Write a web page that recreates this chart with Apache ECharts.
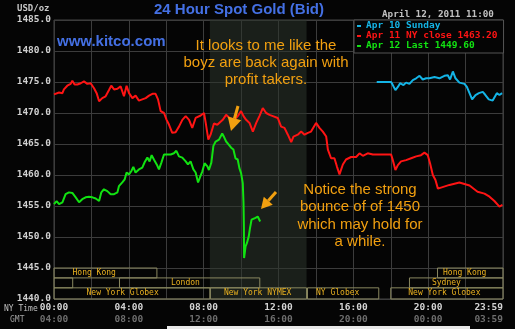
<!DOCTYPE html>
<html><head><meta charset="utf-8">
<script src="https://cdn.jsdelivr.net/npm/echarts@6/dist/echarts.min.js"></script>
<style>html,body{margin:0;padding:0;background:#050505;}#c{width:515px;height:329px;}</style>
</head><body><div id="c"></div>
<script>
// ---- data (hours NY time, USD/oz) ----
const nyTimeLabels = ['00:00','04:00','08:00','12:00','16:00','20:00','23:59'];
const gmtLabels = ['04:00','08:00','12:00','16:00','20:00','00:00','03:59'];
const seriesNames = ['Apr 10 Sunday','Apr 11 NY close 1463.20','Apr 12 Last 1449.60'];

const apr10 = [[17.25,1475.0],[18.02,1475.0],[18.11,1474.5],[18.25,1473.7],[18.38,1474.2],[18.50,1474.8],[18.68,1474.5],[18.82,1474.9],[19.00,1474.7],[19.18,1475.3],[19.36,1475.6],[19.54,1476.0],[19.71,1475.4],[19.89,1475.6],[20.07,1475.6],[20.34,1475.8],[20.60,1475.6],[20.87,1476.0],[21.05,1476.1],[21.17,1475.4],[21.32,1476.7],[21.46,1475.6],[21.67,1474.9],[21.94,1474.7],[22.07,1474.2],[22.21,1473.2],[22.35,1472.2],[22.53,1472.9],[22.71,1473.2],[22.92,1473.4],[23.06,1472.9],[23.24,1472.2],[23.45,1472.0],[23.54,1471.7],[23.67,1473.2],[23.81,1472.9],[23.95,1473.2]];

const apr11 = [[0,1473.0],[0.27,1473.3],[0.45,1473.2],[0.53,1473.8],[0.71,1474.4],[0.89,1474.7],[0.98,1475.2],[1.10,1474.6],[1.25,1474.6],[1.43,1474.8],[1.60,1475.1],[1.78,1474.7],[1.96,1474.8],[2.14,1474.0],[2.28,1473.2],[2.41,1471.9],[2.58,1472.4],[2.76,1472.7],[2.94,1473.7],[3.06,1474.4],[3.21,1473.8],[3.39,1473.9],[3.56,1474.3],[3.65,1474.4],[3.74,1472.7],[3.88,1474.4],[4.01,1473.2],[4.19,1472.4],[4.36,1472.8],[4.54,1472.0],[4.72,1472.2],[4.90,1472.4],[5.08,1472.8],[5.26,1473.1],[5.43,1473.1],[5.56,1472.2],[5.70,1470.3],[5.88,1470.0],[6.02,1468.9],[6.15,1468.1],[6.32,1466.8],[6.50,1466.9],[6.68,1467.8],[6.86,1468.9],[7.04,1469.5],[7.22,1468.9],[7.39,1467.6],[7.57,1469.2],[7.84,1469.6],[8.02,1470.0],[8.11,1468.4],[8.25,1465.7],[8.37,1466.5],[8.55,1468.3],[8.73,1468.1],
[9.02,1468.9],[9.20,1469.7],[9.38,1469.2],[9.65,1468.9],[9.82,1469.5],[10.00,1470.3],[10.13,1469.5],[10.27,1468.9],[10.45,1468.4],[10.63,1467.0],[10.81,1468.4],[10.98,1469.5],[11.16,1470.8],[11.34,1470.0],[11.52,1469.7],[11.70,1469.5],[11.96,1469.2],[12.14,1467.8],[12.32,1467.6],[12.50,1466.5],[12.68,1465.3],[12.80,1466.2],[13.03,1466.5],[13.21,1467.0],[13.39,1466.5],[13.57,1466.8],[13.74,1467.0],[14.01,1468.4],[14.19,1467.6],[14.37,1467.0],[14.55,1466.2],[14.64,1464.1],[14.81,1462.7],[14.99,1462.7],[15.12,1461.4],[15.26,1460.1],[15.44,1461.7],[15.61,1462.5],[15.88,1462.9],[16.15,1462.9],[16.33,1463.5],[16.51,1463.1],[16.77,1463.5],[17.04,1463.3],[17.40,1463.3],
[18.02,1463.3],[18.11,1462.4],[18.25,1460.8],[18.38,1461.6],[18.55,1462.2],[18.82,1462.4],[19.09,1462.7],[19.36,1463.0],[19.62,1463.2],[19.80,1463.6],[19.98,1463.2],[20.10,1461.9],[20.25,1460.0],[20.39,1459.2],[20.52,1457.8],[21.14,1458.4],[21.67,1458.8],[22.21,1458.3],[22.64,1457.3],[23.01,1457.0],[23.28,1456.5],[23.54,1455.8],[23.81,1454.9],[23.97,1455.2]];

const apr12 = [[0,1455.3],[0.14,1455.8],[0.27,1455.3],[0.45,1455.6],[0.62,1456.9],[0.80,1457.2],[0.98,1457.1],[1.16,1456.4],[1.34,1455.6],[1.51,1456.1],[1.69,1456.4],[1.87,1456.5],[2.05,1456.4],[2.23,1456.2],[2.41,1455.8],[2.53,1457.2],[2.67,1457.7],[2.85,1457.4],[3.03,1456.9],[3.21,1456.9],[3.39,1457.2],[3.47,1458.2],[3.65,1458.8],[3.78,1459.3],[3.88,1460.4],[4.01,1460.1],[4.13,1460.6],[4.24,1461.3],[4.36,1460.4],[4.54,1460.9],[4.72,1461.2],[4.85,1462.1],[4.99,1462.8],[5.11,1462.2],[5.22,1463.2],[5.34,1462.5],[5.49,1461.7],[5.61,1460.9],[5.74,1462.0],[5.88,1463.3],[6.06,1463.3],[6.24,1463.3],[6.41,1463.5],[6.54,1463.9],[6.68,1463.0],[6.86,1462.8],[7.04,1462.2],[7.16,1461.7],[7.30,1462.2],[7.45,1460.9],[7.57,1460.4],[7.70,1458.8],[7.80,1459.6],[7.93,1460.6],[8.05,1461.9],[8.20,1461.4],[8.28,1460.8],[8.41,1462.0],[8.52,1464.7],[8.64,1465.4],[8.82,1465.7],
[8.99,1466.7],[9.11,1466.0],[9.20,1465.4],[9.34,1464.9],[9.47,1464.4],[9.59,1464.1],[9.70,1462.7],[9.82,1462.5],[9.91,1461.1],[10.00,1460.3],[10.09,1458.7],[10.13,1455.5],[10.15,1451.7],[10.16,1446.6],[10.24,1448.5],[10.31,1449.0],[10.41,1450.1],[10.48,1451.5],[10.56,1452.8],[10.63,1452.5],[10.77,1453.1],[10.89,1453.3],[10.95,1453.6],[11.02,1452.5]];

// trading sessions: [name, start hour, end hour, row]
const sessions = [
  ['Hong Kong', 0, 5.5, 0],
  ['', 0, 1.0, 1],
  ['London', 3.5, 11.0, 1],
  ['New York Globex', 0, 8.33, 2],
  ['New York NYMEX', 8.36, 13.5, 2],
  ['NY Globex', 13.55, 17.36, 2],
  ['New York Globex', 18.0, 24, 2],
  ['Sydney', 19.0, 24, 1],
  ['Hong Kong', 20.5, 24, 0]
];
const nymexHours = [8.33, 13.5];

// ---- layout/style ----
const rowBands = [[1445.0,1443.4],[1443.4,1441.8],[1441.8,1440.0]];
const sessionLabelShift = [19, 0, 52, 33, 14, 9, 18, 23, 6];
const colors = ['#14b4e6','#ff1414','#12e212'];
const mono = '"DejaVu Sans Mono", monospace';

const chart = echarts.init(document.getElementById('c'), null, {renderer:'canvas'});

const sessionAreas = sessions.map((s, i) => [
  {name: s[0], xAxis: s[1], yAxis: rowBands[s[3]][0],
   label: {offset: [sessionLabelShift[i], 0]}},
  {xAxis: s[2], yAxis: rowBands[s[3]][1]}
]);

const lineSeries = [apr10, apr11, apr12].map((d, i) => ({
  name: seriesNames[i], type: 'line', data: d, symbol: 'none', z: 5,
  lineStyle: {color: colors[i], width: 2}, itemStyle: {color: colors[i]},
  animation: false
}));

const orange = '#f2a010';
function arrow(tail, tip, len, half) {
  const dx = tip[0]-tail[0], dy = tip[1]-tail[1], L = Math.hypot(dx, dy);
  const ux = dx/L, uy = dy/L, px = -uy, py = ux;
  const bx = tip[0]-ux*len, by = tip[1]-uy*len;
  return [
    {type:'line', shape:{x1:tail[0], y1:tail[1], x2:bx, y2:by}, style:{stroke:orange, lineWidth:3}, z:20},
    {type:'polygon', shape:{points:[[tip[0],tip[1]],[bx+px*half,by+py*half],[bx-px*half,by-py*half]]}, style:{fill:orange}, z:20}
  ];
}

chart.setOption({
  backgroundColor: '#050505',
  animation: false,
  grid: {left: 54, right: 12, top: 20, bottom: 30, show: true, borderColor: '#444', borderWidth: 1},
  xAxis: {
    type: 'value', min: 0, max: 24, interval: 2,
    axisLine: {show: false}, axisTick: {show: false},
    splitLine: {show: true, lineStyle: {color: '#3c3c3c', width: 1}},
    axisLabel: {
      margin: 3, alignMaxLabel: 'right', showMinLabel: true, showMaxLabel: true,
      formatter: v => (v % 4 === 0) ? '{a|' + nyTimeLabels[v/4] + '}\n{b|' + gmtLabels[v/4] + '}' : '',
      rich: {
        a: {color: '#d4d4d4', fontFamily: mono, fontSize: 9.5, fontWeight: 'bold', lineHeight: 12},
        b: {color: '#6e6e6e', fontFamily: mono, fontSize: 9.5, fontWeight: 'bold', lineHeight: 12}
      }
    }
  },
  yAxis: {
    type: 'value', min: 1440, max: 1485, interval: 5,
    axisLine: {show: false}, axisTick: {show: false},
    splitLine: {show: true, lineStyle: {color: '#3c3c3c', width: 1}},
    axisLabel: {margin: 3, color: '#d0d0d0', fontFamily: mono, fontSize: 9.5, fontWeight: 'bold',
      formatter: v => v.toFixed(1)}
  },
  legend: {
    show: true, orient: 'vertical', left: 354, top: 20, selectedMode: false,
    backgroundColor: '#050505', borderColor: '#555', borderWidth: 1,
    padding: [1, 6, 2, 3], itemGap: 0, itemWidth: 4, itemHeight: 2, icon: 'rect',
    textStyle: {fontFamily: mono, fontSize: 9.5, fontWeight: 'bold', lineHeight: 10},
    data: seriesNames.map((n, i) => ({name: n, textStyle: {color: colors[i]}, itemStyle: {color: colors[i]}}))
  },
  series: [
    {type: 'line', data: [], z: 1, silent: true,
     markArea: {silent: true, itemStyle: {color: 'rgba(44,52,44,0.55)'},
       data: [[{xAxis: nymexHours[0]}, {xAxis: nymexHours[1]}]]}},
    {type: 'line', data: [], z: 2, silent: true,
     markArea: {silent: true,
       itemStyle: {color: 'rgba(0,0,0,0)', borderColor: '#8a8860', borderWidth: 1},
       label: {show: true, position: 'insideLeft', distance: 0, color: '#e8b020',
         fontFamily: mono, fontSize: 8},
       data: sessionAreas}},
    ...lineSeries
  ],
  graphic: [
    {type:'text', x: 239, y: 10, style:{text:'24 Hour Spot Gold (Bid)', fill:'#4470e4', font:'bold 15px "Liberation Sans", Arial', align:'center', verticalAlign:'middle'}},
    {type:'text', x: 17, y: 9, style:{text:'USD/oz', fill:'#c8c8c8', font:'bold 9px ' + mono, align:'left', verticalAlign:'middle'}},
    {type:'text', x: 382, y: 15, style:{text:'April 12, 2011 11:00', fill:'#c0c0c0', font:'bold 9.3px ' + mono, align:'left', verticalAlign:'middle'}},
    {type:'text', x: 57, y: 42, z: 10, style:{text:'www.kitco.com', fill:'#4470e4', font:'bold 15px "Liberation Sans", Arial', align:'left', verticalAlign:'middle'}},
    {type:'text', x: 266, y: 37.5, z: 10, style:{text:'It looks to me like the\nboyz are back again with\nprofit takers.', fill: orange, font:'15px "Liberation Sans", Arial', lineHeight: 17, align:'center', verticalAlign:'top'}},
    {type:'text', x: 360, y: 181, z: 10, style:{text:'Notice the strong\nbounce of of 1450\nwhich may hold for\na while.', fill: orange, font:'15px "Liberation Sans", Arial', lineHeight: 17.5, align:'center', verticalAlign:'top'}},
    {type:'text', x: 4, y: 309, style:{text:'NY Time', fill:'#c0c0c0', font:'8px ' + mono, align:'left', verticalAlign:'middle'}},
    {type:'text', x: 10, y: 320, style:{text:'GMT', fill:'#a0a0a0', font:'8px ' + mono, align:'left', verticalAlign:'middle'}},
    {type:'rect', shape:{x:167, y:326, width:303, height:3}, style:{fill:'#e8e8e8'}},
    ...arrow([238,106],[231,131],13,7),
    ...arrow([276,192],[261,209],11,6)
  ]
});
</script></body></html>
